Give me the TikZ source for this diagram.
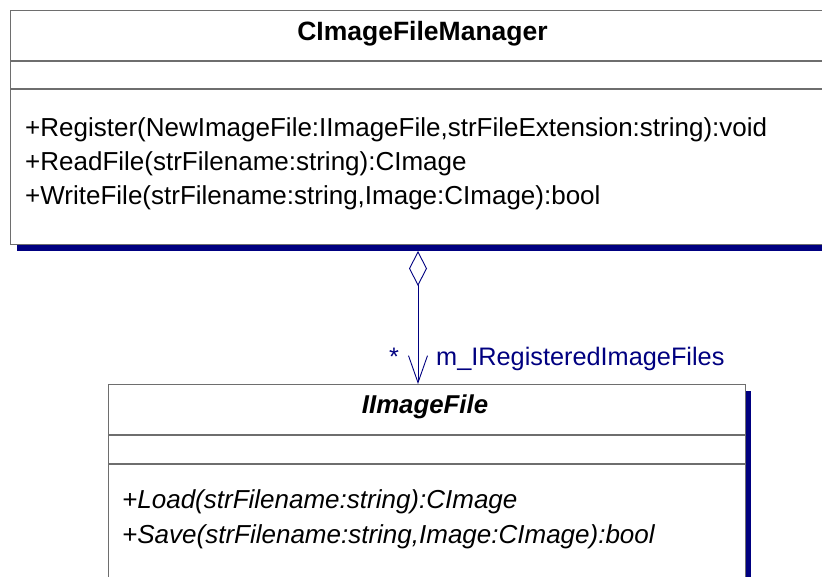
\documentclass[tikz,border=0pt]{standalone}
\usepackage{fontspec}
\setmainfont{Liberation Sans}
\usetikzlibrary{arrows.meta}
\definecolor{umlnavy}{RGB}{0,0,128}
\definecolor{umlframe}{RGB}{110,110,110}

\tikzset{
  classbox/.style={draw=umlframe, line width=1.2pt, fill=white, rectangle,
    inner sep=0pt, anchor=north west},
  sepline/.style={draw=umlframe, line width=1.2pt},
  boxshadow/.style={fill=umlnavy, draw=none},
  optext/.style={anchor=base west, inner sep=0pt, font=\fontsize{26}{30}\selectfont},
  titletext/.style={anchor=base, inner sep=0pt, font=\fontsize{26.5}{30}\selectfont\bfseries},
  rolelabel/.style={anchor=base west, inner sep=0pt, text=umlnavy,
    font=\fontsize{25.3}{30}\selectfont},
  aggregation/.style={draw=umlnavy, line width=0.9pt,
    {Diamond[open, length=35pt, width=18pt, fill=white]}-{Straight Barb[length=27pt, width=19pt]}},
}

\begin{document}
\begin{tikzpicture}[x=1pt, y=-1pt]
\useasboundingbox (0,0) rectangle (822,576);
\clip (0,0) rectangle (822,576);

% CImageFileManager
\fill[boxshadow] (17,244) rectangle (842,251);
\node[classbox, minimum width=825pt, minimum height=234pt] (mgr) at (10,10) {};
\draw[sepline] (10,61) -- (835,61);
\draw[sepline] (10,89) -- (835,89);
\node[titletext] (mgrname) at (422.5,40) {CImageFileManager};
\node[optext] (opreg) at (25,136) {+Register(NewImageFile:IImageFile,strFileExtension:string):void};
\node[optext] (opread) at (25,170) {+ReadFile(strFilename:string):CImage};
\node[optext] (opwrite) at (25,204) {+WriteFile(strFilename:string,Image:CImage):bool};

% IImageFile
\fill[boxshadow] (745,391) rectangle (751,600);
\node[classbox, minimum width=637pt, minimum height=216pt] (img) at (108,384) {};
\draw[sepline] (108,435) -- (745,435);
\draw[sepline] (108,464) -- (745,464);
\node[titletext, font=\fontsize{25.8}{30}\selectfont\bfseries\itshape] (imgname) at (425,413) {IImageFile};
\node[optext, font=\fontsize{26}{30}\selectfont\itshape] (opload) at (122,508) {+Load(strFilename:string):CImage};
\node[optext, font=\fontsize{26}{30}\selectfont\itshape] (opsave) at (122,543) {+Save(strFilename:string,Image:CImage):bool};

% aggregation m_IRegisteredImageFiles
\coordinate (aggwhole) at (418,251);
\coordinate (aggpart) at (418,384);
\draw[aggregation] (aggwhole) -- (aggpart);
\node[rolelabel] (mult) at (389,365) {*};
\node[rolelabel] (role) at (436,365) {m\_IRegisteredImageFiles};
\end{tikzpicture}
\end{document}
